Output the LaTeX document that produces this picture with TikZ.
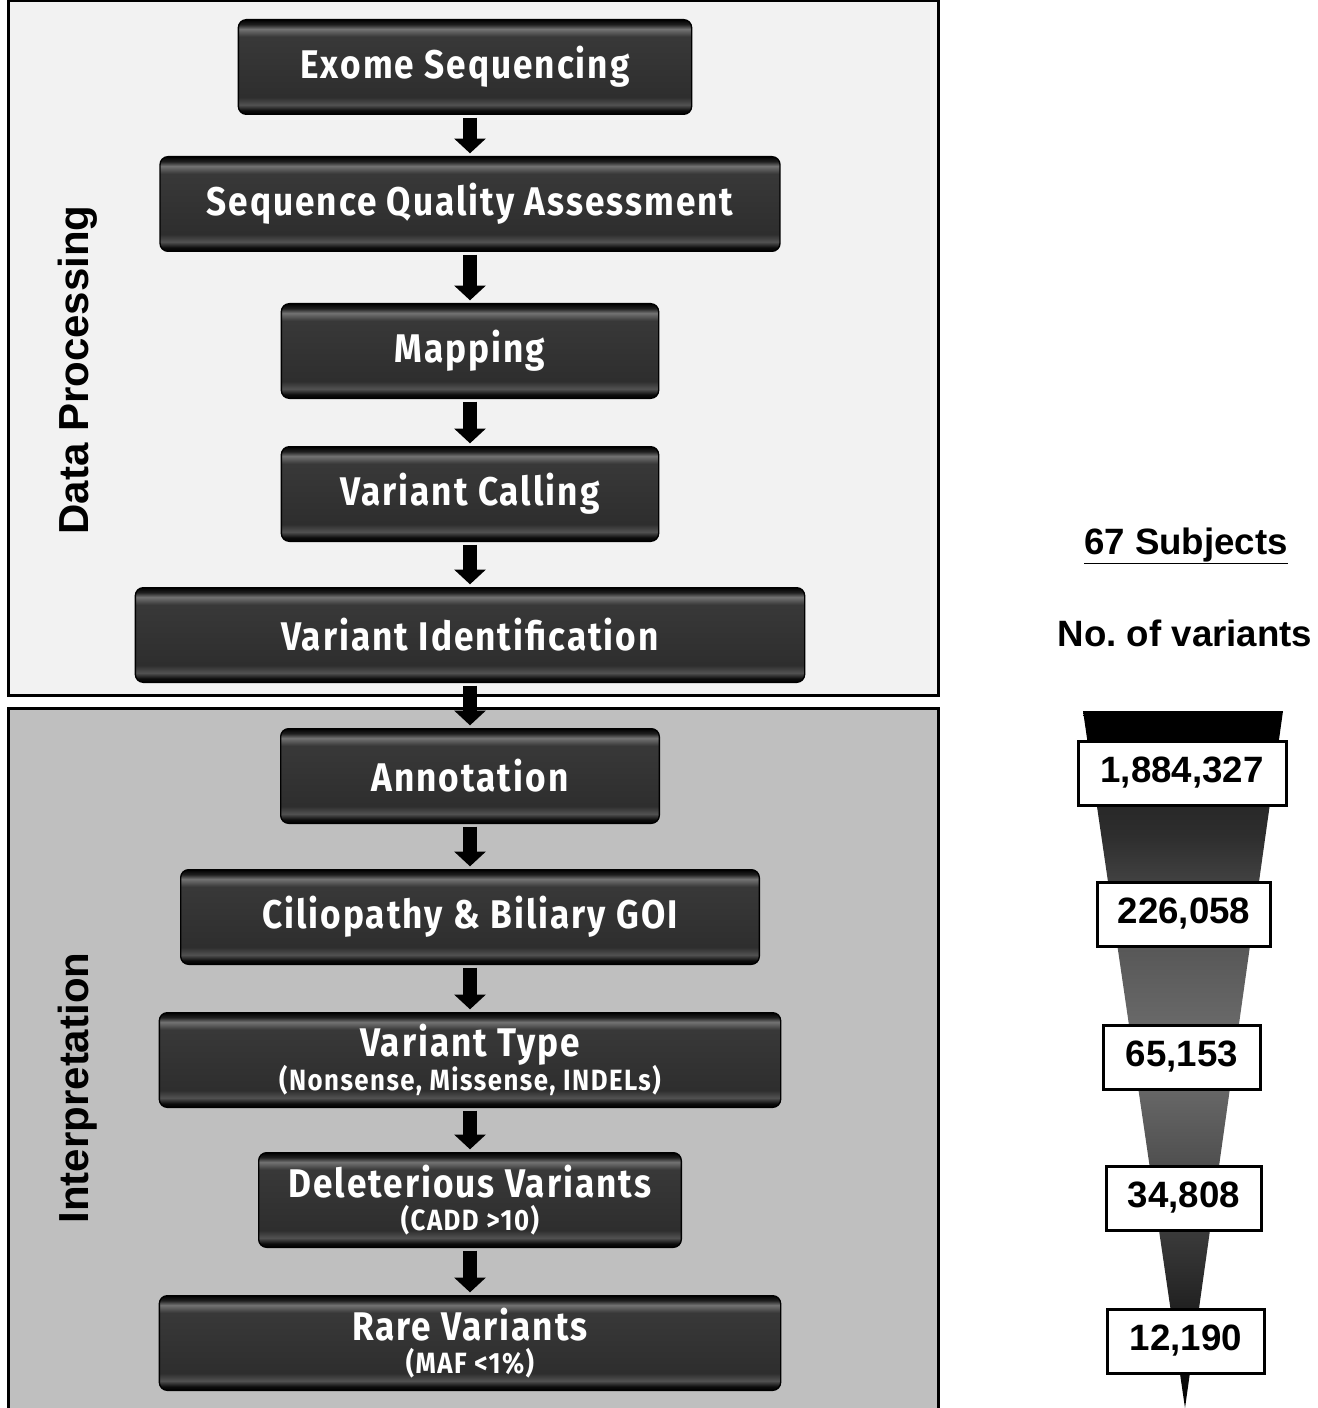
\documentclass[tikz,border=0pt]{standalone}
\usepackage{fontspec}
\setmainfont{Liberation Sans}
\newfontfamily\boxfont[FakeStretch=0.88, LetterSpace=5]{Fira Sans}
\newcommand\stepnote{\boxfont\bfseries\fontsize{22}{23}\selectfont}
\usepackage{tikz}
\usetikzlibrary{
    arrows.meta,
    positioning
}

% glossy fill of the step boxes (25bp = bottom edge, 75bp = top edge)
\pgfdeclareverticalshading{boxshade}{100bp}{color(0bp)=(black); color(25bp)=(black); color(27bp)=(black!95);
    color(30bp)=(black!68); color(34bp)=(black!82); color(50bp)=(black!80); color(66bp)=(black!78);
    color(70bp)=(black!55); color(72.5bp)=(black!88); color(75bp)=(black); color(100bp)=(black)}
% funnel of variant counts
\pgfdeclareverticalshading{funnelshade}{100bp}{color(0bp)=(black); color(25bp)=(black); color(36bp)=(black!80);
    color(50bp)=(black!56); color(60bp)=(black!68); color(66bp)=(black!82); color(71.5bp)=(black!88);
    color(72.5bp)=(black); color(100bp)=(black)}

\begin{document}
\frenchspacing
\begin{tikzpicture}[
            x=0.75pt, y=-0.75pt,
            stepbox/.style={shading=boxshade, draw=black, line width=1pt, rounded corners=6pt,
                text=white, align=center, inner sep=0pt, minimum height=71pt,
                font=\boxfont\bfseries\fontsize{30}{30}\selectfont},
            panel/.style={line width=2.25pt},
            side/.style={rotate=90, font=\bfseries\fontsize{31.5}{33}\selectfont},
            numbox/.style={draw=black, fill=white, line width=2.25pt, inner sep=0pt, minimum height=48pt,
                font=\bfseries\fontsize{27.5}{29}\selectfont},
            head/.style={font=\bfseries\fontsize{27.5}{29}\selectfont},
            downarr/.style={-{Triangle[length=11pt, width=23pt]}, line width=10pt, shorten <=2pt, shorten >=2pt}
        ]
            \useasboundingbox (0,0) rectangle (1317,1408);

            % ====== Panels ======
            \fill[black!5] (8,1) rectangle (938,695);
            \draw[panel] (8,1) rectangle (938,695);
            \fill[black!25] (8,708) rectangle (938,1408);
            \draw[panel] (8,1408) |- (938,708) -- (938,1408);

            \node[side] (proclabel) at (78, 370) {Data Processing};
            \node[side] (interlabel) at (78, 1088) {Interpretation};

            % ====== Data processing ======
            \node[stepbox, minimum width=340pt] (exome) at (465, 67) {Exome Sequencing};
            \node[stepbox, minimum width=465pt] (quality) at (470, 204) {Sequence Quality Assessment};
            \node[stepbox, minimum width=283pt] (mapping) at (470, 351) {Mapping};
            \node[stepbox, minimum width=283pt] (calling) at (470, 494) {Variant Calling};
            \node[stepbox, minimum width=502pt] (ident) at (470, 635) {Variant Identification};

            % ====== Interpretation ======
            \node[stepbox, minimum width=284pt] (annot) at (470, 776) {Annotation};
            \node[stepbox, minimum width=434pt] (goi) at (470, 917) {Ciliopathy \& Biliary GOI};
            \node[stepbox, minimum width=466pt] (vtype) at (470, 1060)
                {Variant Type\\[-5pt]{\stepnote (Nonsense, Missense, INDELs)}};
            \node[stepbox, minimum width=317pt] (delet) at (470, 1200)
                {Deleterious Variants\\[-5pt]{\stepnote (CADD >10)}};
            \node[stepbox, minimum width=466pt] (rare) at (470, 1343)
                {Rare Variants\\[-5pt]{\stepnote (MAF <1\%)}};

            \foreach \a/\b in {exome/quality, quality/mapping, mapping/calling, calling/ident, ident/annot,
                               annot/goi, goi/vtype, vtype/delet, delet/rare}
                \draw[downarr] (\b.north |- \a.south) -- (\b.north);

            % ====== Variant counts ======
            \node[head] (subjects) at (1186, 546) {\underline{67 Subjects}};
            \node[head] (novar) at (1185, 633) {No. of variants};

            \shade[shading=funnelshade] (1083,711) -- (1283,711) -- (1185,1408) -- cycle;

            \node[numbox, minimum width=156pt] (n1) at (1182, 773) {1,884,327};
            \node[numbox, minimum width=130pt] (n2) at (1184, 914) {226,058};
            \node[numbox, minimum width=118pt] (n3) at (1182, 1057) {65,153};
            \node[numbox, minimum width=116pt] (n4) at (1184, 1198) {34,808};
            \node[numbox, minimum width=118pt] (n5) at (1186, 1341) {12,190};
        \end{tikzpicture}
\end{document}
